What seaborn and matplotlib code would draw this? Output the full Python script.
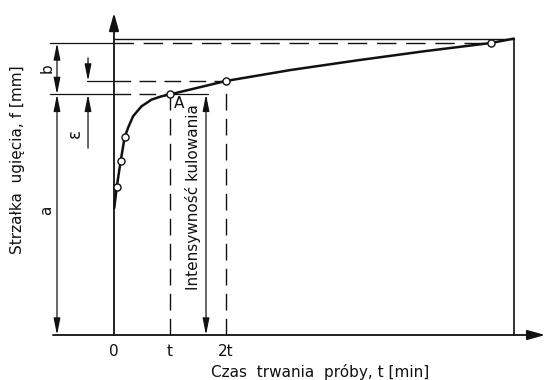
import matplotlib
matplotlib.use("Agg")
import matplotlib.pyplot as plt
import seaborn as sns
import pandas as pd

sns.set_style("white")
plt.rcParams['font.family'] = ['DejaVu Sans']
plt.rcParams['lines.scale_dashes'] = False

# ---- data (t in units of t, f in arbitrary units) ----
curve_t = [0.005, 0.05, 0.12, 0.19, 0.25, 0.34, 0.49, 0.67, 0.84, 1.0, 2.0, 3.17, 4.36, 5.55, 6.73, 7.14]
curve_f = [4.35, 5.08, 5.97, 6.77, 7.09, 7.49, 7.83, 8.06, 8.17, 8.24, 8.70, 9.08, 9.41, 9.72, 10.0, 10.15]
marker_t = [0.05, 0.12, 0.19, 1.0, 2.0, 6.73]
marker_f = [5.08, 5.97, 6.77, 8.24, 8.70, 10.0]
tick_pos = [0, 1, 2]
tick_labels = ["0", "t", "2t"]
f_top = 10.0      # end of curve level (b upper limit)
f_A = 8.24        # level at point A (time t)
f_2t = 8.70       # level at time 2t
f_frame = 10.15   # upper frame line
t_end = 7.14      # right frame line

df_curve = pd.DataFrame({"t": curve_t, "f": curve_f})
df_pts = pd.DataFrame({"t": marker_t, "f": marker_f})

fig = plt.figure(figsize=(5.47, 3.80), dpi=100)
ax = fig.add_axes([0, 0, 1, 1])
ax.set_xlim(-114 / 56, (547 - 114) / 56)
ax.set_ylim((335 - 380) / 29.2, 335 / 29.2)
ax.axis("off")

K = "#111111"
dash_long = (0, (14, 7))
dash_short = (0, (12, 6))

# axes with arrows
arrow_axis = dict(arrowstyle="-|>,head_length=0.9,head_width=0.25", color=K, lw=1.3,
                  shrinkA=0, shrinkB=0, mutation_scale=12)
ax.annotate("", xy=(0, 11.03), xytext=(0, 0), arrowprops=arrow_axis)
ax.annotate("", xy=(7.70, 0), xytext=(-1.09, 0), arrowprops=arrow_axis)

# frame
ax.plot([0, t_end], [f_frame, f_frame], color=K, lw=1.0)
ax.plot([t_end, t_end], [0, f_frame], color=K, lw=1.2)

# horizontal extension lines
xl = -1.14
ax.plot([xl, 0], [f_top, f_top], color=K, lw=0.9)
ax.plot([0, marker_t[-1]], [f_top, f_top], color=K, lw=1.0, ls=dash_long)
ax.plot([xl, 0], [f_A, f_A], color=K, lw=0.9)
ax.plot([0, 1.0], [f_A, f_A], color=K, lw=1.0, ls=dash_short)
ax.plot([1.0, 1.67], [f_A, f_A], color=K, lw=0.9)
ax.plot([-0.48, 0], [f_2t, f_2t], color=K, lw=0.9)
ax.plot([0, 2.0], [f_2t, f_2t], color=K, lw=1.0, ls=dash_short)

# vertical dashed lines at t and 2t
ax.plot([1.0, 1.0], [0, f_A], color=K, lw=1.0, ls=dash_short)
ax.plot([2.0, 2.0], [0, f_2t], color=K, lw=1.0, ls=dash_short)

# dimension arrows
dim = dict(arrowstyle="<|-|>,head_length=1.0,head_width=0.2", color=K, lw=0.9,
           shrinkA=0, shrinkB=0, mutation_scale=10)
one = dict(arrowstyle="-|>,head_length=1.0,head_width=0.2", color=K, lw=0.9,
           shrinkA=0, shrinkB=0, mutation_scale=10)
xd = -1.018
ax.annotate("", xy=(xd, f_top), xytext=(xd, f_A), arrowprops=dim)
ax.annotate("", xy=(xd, f_A), xytext=(xd, 0), arrowprops=dim)
xe = -0.464
ax.annotate("", xy=(xe, f_2t), xytext=(xe, 9.49), arrowprops=one)
ax.annotate("", xy=(xe, f_A), xytext=(xe, 6.40), arrowprops=one)
ax.annotate("", xy=(1.643, f_A), xytext=(1.643, 0), arrowprops=dim)

# curve and measured points
sns.lineplot(data=df_curve, x="t", y="f", ax=ax, color=K, lw=1.8, sort=False, estimator=None)
sns.scatterplot(data=df_pts, x="t", y="f", ax=ax, s=26, color="white",
                edgecolor=K, linewidth=1.0, zorder=5)

# labels
fs = 11
ax.text((47 - 114) / 56, (335 - 68) / 29.2, "b", rotation=90, ha="center", va="center", fontsize=fs, color=K)
ax.text((47 - 114) / 56, (335 - 210) / 29.2, "a", rotation=90, ha="center", va="center", fontsize=fs, color=K)
ax.text((75 - 114) / 56, (335 - 133) / 29.2, "ε", rotation=90, ha="center", va="center", fontsize=fs + 1, color=K)
ax.text((179 - 114) / 56, (335 - 104) / 29.2, "A", ha="center", va="center", fontsize=fs, color=K)
ax.text(1.41, (335 - 197) / 29.2, "Intensywność kulowania", rotation=90, ha="center", va="center",
        fontsize=fs, color=K)
for p, lab in zip(tick_pos, tick_labels):
    ax.text(p, (335 - 351) / 29.2, lab, ha="center", va="center", fontsize=fs, color=K)
ax.text((320 - 114) / 56, (335 - 372) / 29.2, "Czas  trwania  próby, t [min]", ha="center", va="center",
        fontsize=fs, color=K)
ax.text((18 - 114) / 56, (335 - 160) / 29.2, "Strzałka  ugięcia, f [mm]", rotation=90, ha="center",
        va="center", fontsize=fs, color=K)

fig.savefig("out.png", dpi=100, facecolor="white")
